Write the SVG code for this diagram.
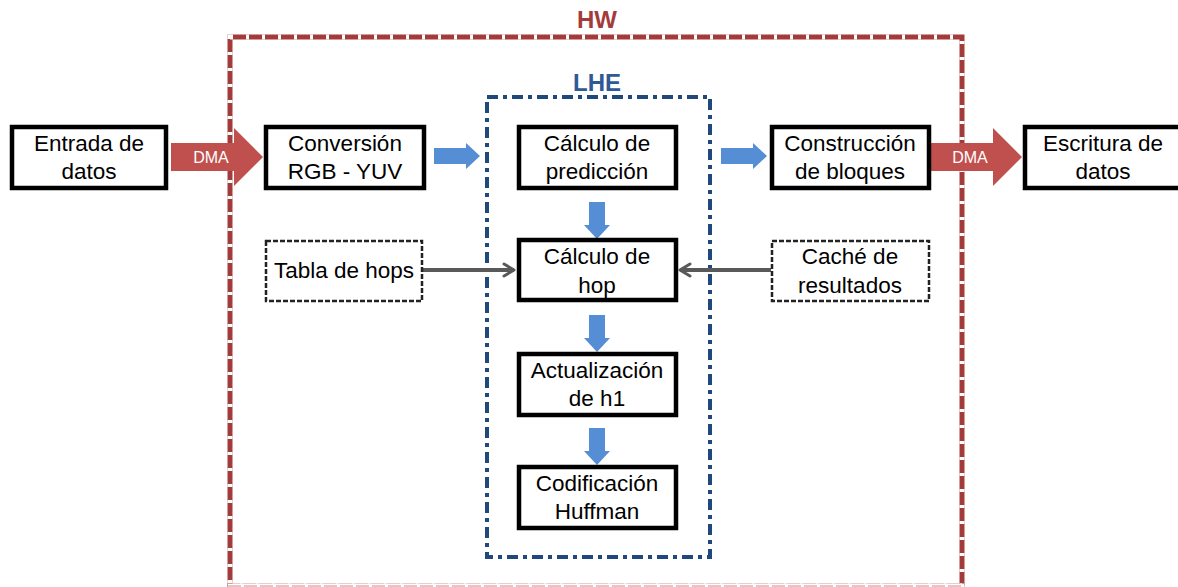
<svg xmlns="http://www.w3.org/2000/svg" width="1178" height="587" viewBox="0 0 1178 587">
<defs>
<style>
.box{fill:#fff;stroke:#000;stroke-width:4.5}
.dbox{fill:#fff;stroke:#222;stroke-width:2.5;stroke-dasharray:5 2}
.t{font-family:"Liberation Sans",Arial,sans-serif;font-size:22.5px;fill:#000;text-anchor:middle}
.dma{fill:#C0504D}
.dmat{font-family:"Liberation Sans",Arial,sans-serif;font-size:16px;fill:#fff;text-anchor:middle}
.blue{fill:#558ED5}
.gline{stroke:#595959;stroke-width:4;fill:none}
</style>
<marker id="open" viewBox="0 0 14 16" refX="12" refY="8" markerWidth="14" markerHeight="16" markerUnits="userSpaceOnUse" orient="auto">
<path d="M2,2 L12,8 L2,14" fill="none" stroke="#595959" stroke-width="3" stroke-linecap="round" stroke-linejoin="round"/>
</marker>
</defs>
<rect width="1178" height="587" fill="#fff"/>
<g id="hw">
<rect x="230" y="37" width="732" height="549" fill="none" stroke="#A33B3B" stroke-width="5"/>
<rect x="230" y="37" width="732" height="549" fill="none" stroke="#fff" stroke-width="5" stroke-dasharray="3 13"/>
<line x1="228" y1="586" x2="964" y2="586" stroke="#fff" stroke-width="5"/>
<line x1="228" y1="586" x2="964" y2="586" stroke="#E8C4C4" stroke-width="2" stroke-dasharray="13 3"/>
<text x="597" y="28" font-family="Liberation Sans,Arial,sans-serif" font-size="24" font-weight="bold" fill="#A33B3B" text-anchor="middle">HW</text>
</g>
<g id="lhe">
<rect x="487" y="97" width="223" height="460" fill="none" stroke="#1F497D" stroke-width="4" stroke-dasharray="11 5 4 5"/>
<text x="597" y="91" font-family="Liberation Sans,Arial,sans-serif" font-size="24" font-weight="bold" fill="#2F5A96" text-anchor="middle">LHE</text>
</g>
<g id="connectors">
<g id="dma1"><path class="dma" d="M171,143 H234 V128 L263,157 L234,186 V171 H171 Z"/><text class="dmat" x="211" y="163">DMA</text></g>
<g id="dma2"><path class="dma" d="M931,143 H993 V128 L1022,157 L993,186 V171 H931 Z"/><text class="dmat" x="970" y="163">DMA</text></g>
<path class="blue" d="M434,148 H466 V143 L480,156 L466,169 V164 H434 Z"/>
<path class="blue" d="M721,148 H753 V143 L767,156 L753,169 V164 H721 Z"/>
<path class="blue" d="M589,202 H605 V225 H610 L597,239 L584,225 H589 Z"/>
<path class="blue" d="M589,315 H605 V338 H610 L597,352 L584,338 H589 Z"/>
<path class="blue" d="M589,428 H605 V451 H610 L597,465 L584,451 H589 Z"/>
<line class="gline" x1="423" y1="270" x2="514" y2="270" marker-end="url(#open)"/>
<line class="gline" x1="771" y1="270" x2="680" y2="270" marker-end="url(#open)"/>
</g>
<g id="entrada"><rect class="box" x="12" y="127" width="154" height="61"/><text class="t" x="89" y="151">Entrada de</text><text class="t" x="89" y="179">datos</text></g>
<g id="conversion"><rect class="box" x="266" y="127" width="158" height="61"/><text class="t" x="345" y="151">Conversión</text><text class="t" x="345" y="179">RGB - YUV</text></g>
<g id="prediccion"><rect class="box" x="519" y="127" width="157" height="61"/><text class="t" x="597" y="151">Cálculo de</text><text class="t" x="597" y="179">predicción</text></g>
<g id="construccion"><rect class="box" x="772" y="127" width="157" height="61"/><text class="t" x="850" y="151">Construcción</text><text class="t" x="850" y="179">de bloques</text></g>
<g id="escritura"><rect class="box" x="1025" y="127" width="157" height="61"/><text class="t" x="1103" y="151">Escritura de</text><text class="t" x="1103" y="179">datos</text></g>
<g id="tabla"><rect class="dbox" x="266" y="241" width="156" height="60"/><text class="t" x="344" y="278">Tabla de hops</text></g>
<g id="hop"><rect class="box" x="519" y="240" width="157" height="60"/><text class="t" x="597" y="264">Cálculo de</text><text class="t" x="597" y="293">hop</text></g>
<g id="cache"><rect class="dbox" x="772" y="241" width="157" height="60"/><text class="t" x="850" y="264">Caché de</text><text class="t" x="850" y="293">resultados</text></g>
<g id="actualizacion"><rect class="box" x="519" y="354" width="157" height="61"/><text class="t" x="597" y="378">Actualización</text><text class="t" x="597" y="406">de h1</text></g>
<g id="huffman"><rect class="box" x="519" y="467" width="157" height="61"/><text class="t" x="597" y="491">Codificación</text><text class="t" x="597" y="519">Huffman</text></g>
</svg>
